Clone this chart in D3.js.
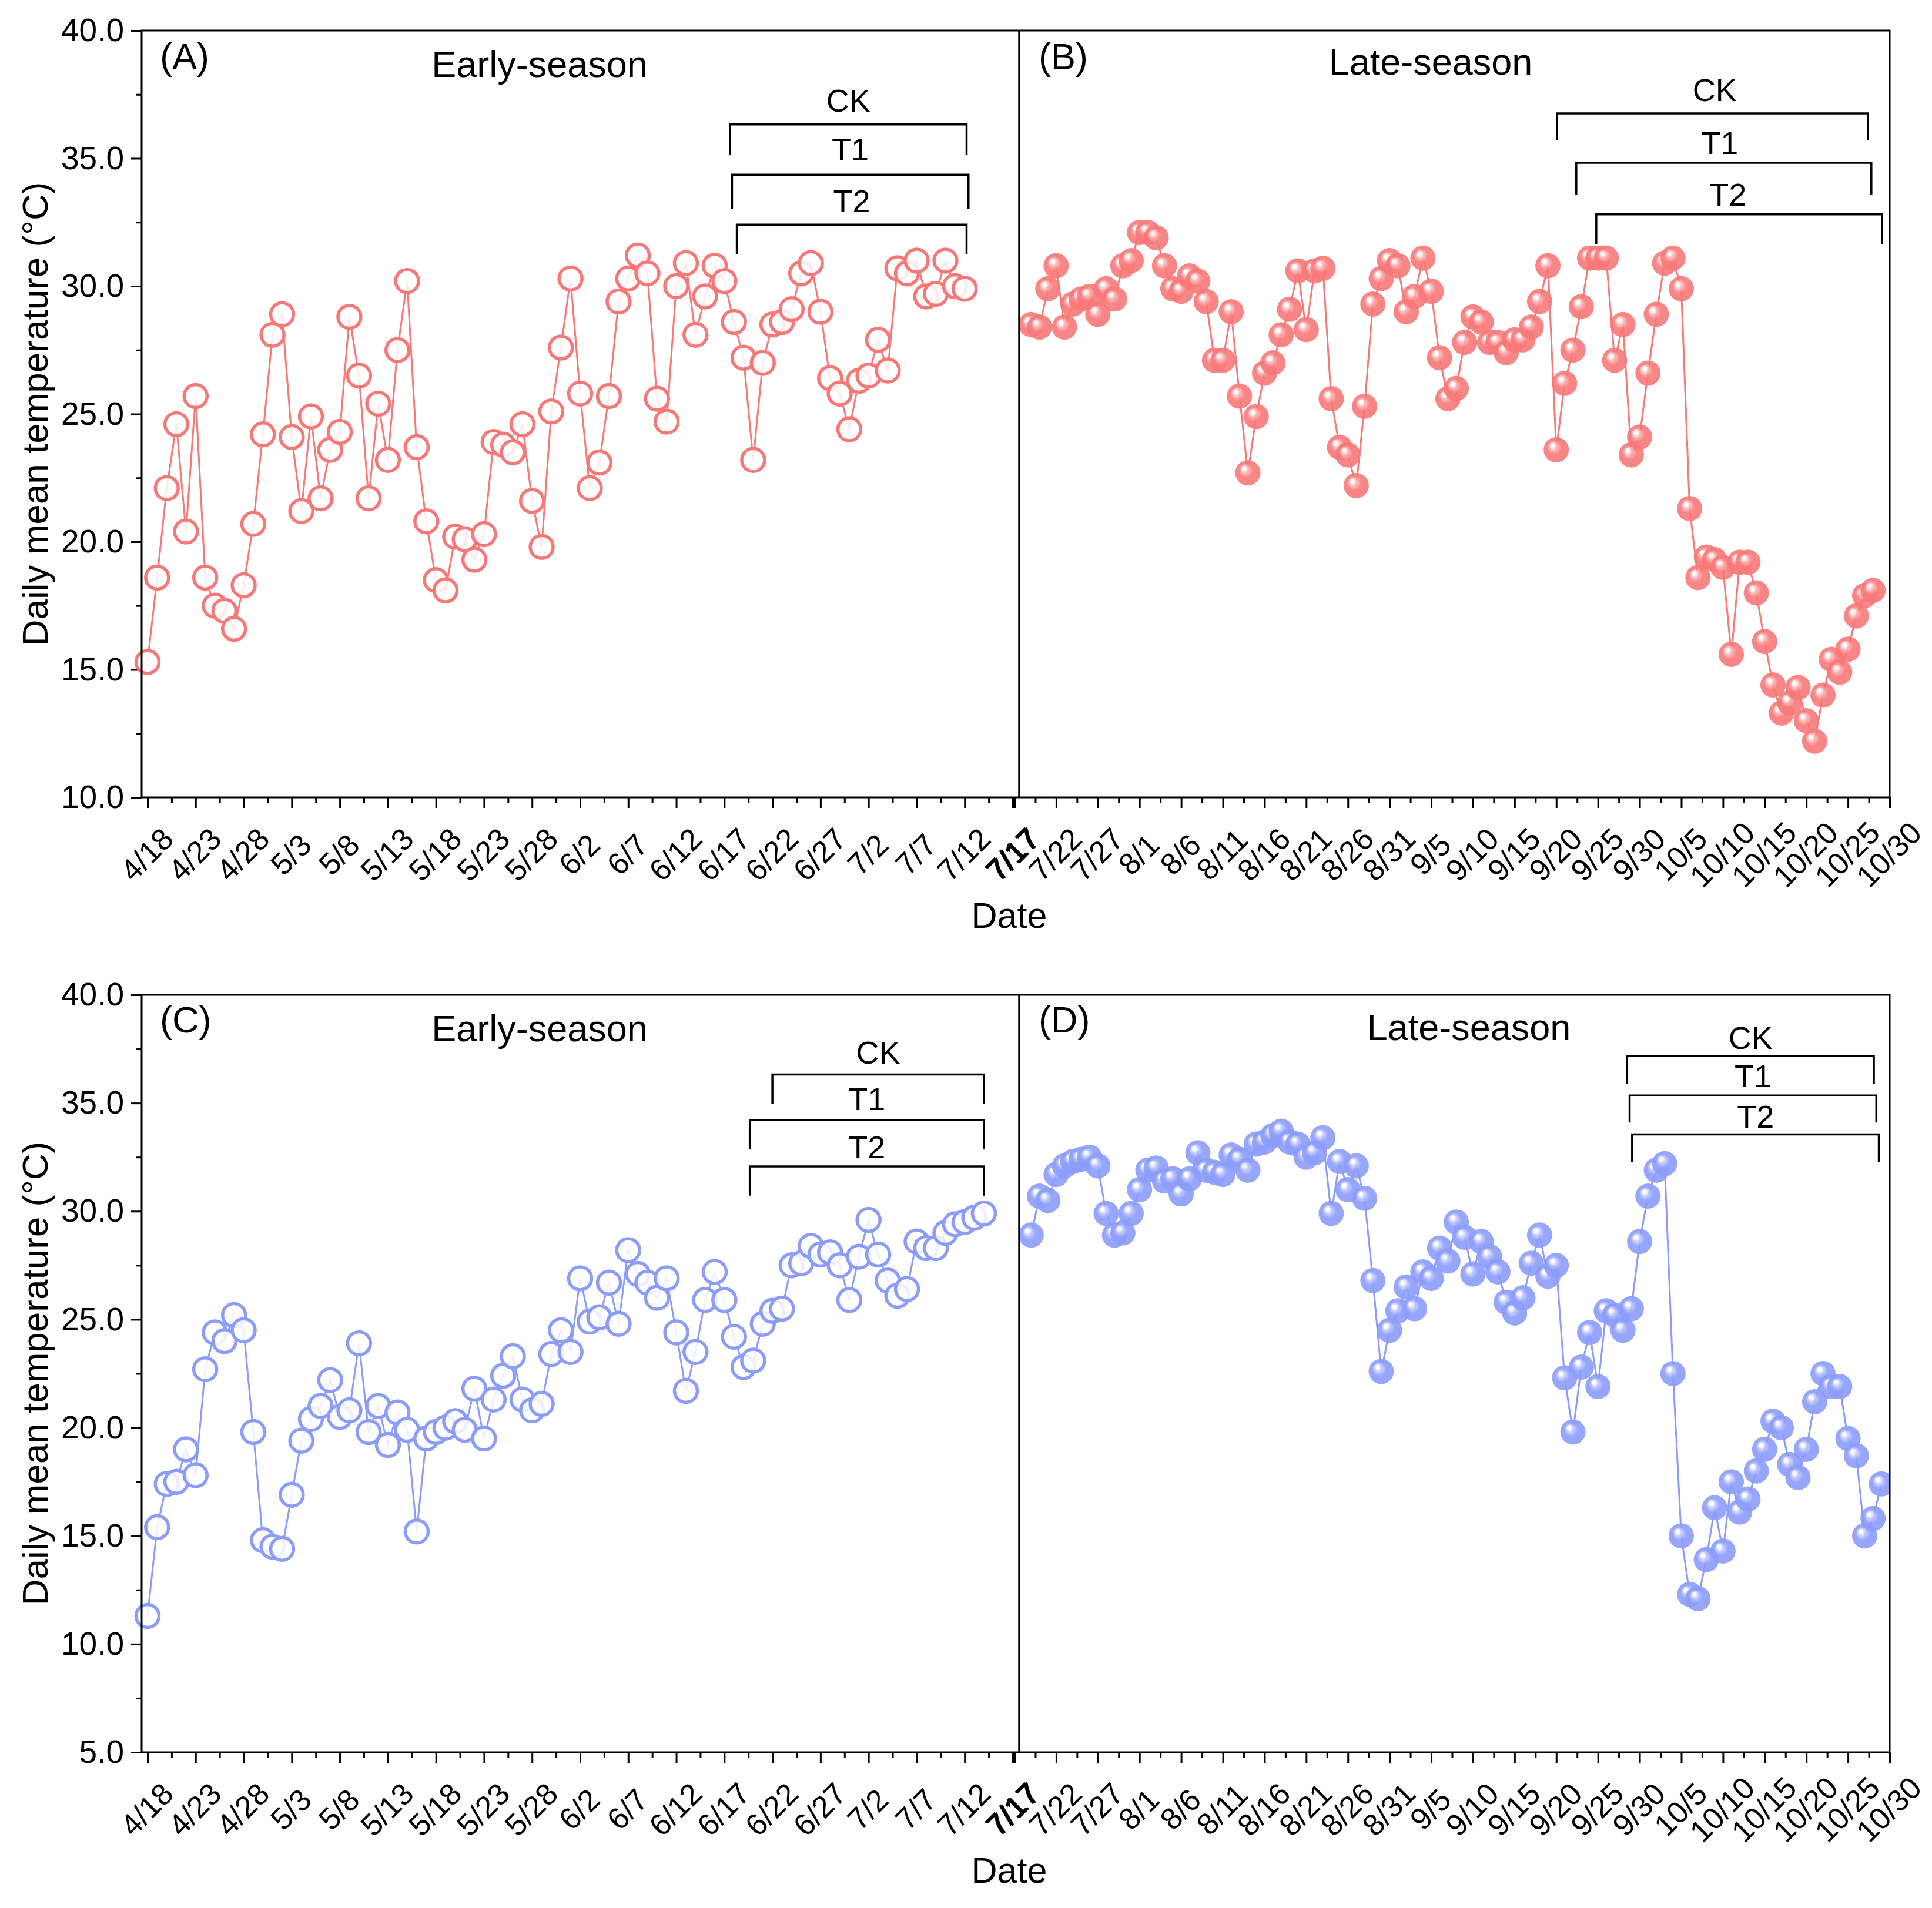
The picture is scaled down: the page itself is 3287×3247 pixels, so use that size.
<!DOCTYPE html>
<html>
<head>
<meta charset="utf-8">
<script src="https://cdn.jsdelivr.net/npm/d3@7"></script>
<style>
  body { margin: 0; background: #fff; }
  svg text { font-family: "Liberation Sans", Arial, sans-serif; fill: #000; }
</style>
</head>
<body>
<div id="chart"></div>
<script>
// Tick labels
var earlyTickLabels = ["4/18","4/23","4/28","5/3","5/8","5/13","5/18","5/23","5/28","6/2",
                       "6/7","6/12","6/17","6/22","6/27","7/2","7/7","7/12","7/17"];
var lateTickLabels = ["7/17","7/22","7/27","8/1","8/6","8/11","8/16","8/21","8/26","8/31","9/5",
                      "9/10","9/15","9/20","9/25","9/30","10/5","10/10","10/15","10/20","10/25","10/30"];
var yTicksTop = [10, 15, 20, 25, 30, 35, 40];
var yTicksBottom = [5, 10, 15, 20, 25, 30, 35, 40];

// Daily mean temperature, one value per day from the start date
var startA = "4/18", startB = "7/19", startC = "4/18", startD = "7/19";
var tempA = [15.3, 18.6, 22.1, 24.6, 20.4, 25.7, 18.6, 17.5, 17.3, 16.6,
             18.3, 20.7, 24.2, 28.1, 28.9, 24.1, 21.2, 24.9, 21.7, 23.6,
             24.3, 28.8, 26.5, 21.7, 25.4, 23.2, 27.5, 30.2, 23.7, 20.8,
             18.5, 18.1, 20.2, 20.1, 19.3, 20.3, 23.9, 23.8, 23.5, 24.6,
             21.6, 19.8, 25.1, 27.6, 30.3, 25.8, 22.1, 23.1, 25.7, 29.4,
             30.3, 31.2, 30.5, 25.6, 24.7, 30.0, 30.9, 28.1, 29.6, 30.8,
             30.2, 28.6, 27.2, 23.2, 27.0, 28.5, 28.6, 29.1, 30.5, 30.9,
             29.0, 26.4, 25.8, 24.4, 26.3, 26.5, 27.9, 26.7, 30.7, 30.5,
             31.0, 29.6, 29.7, 31.0, 30.0, 29.9];
var tempB = [28.5, 28.4, 29.9, 30.8, 28.4, 29.3, 29.5, 29.6, 28.9, 29.9,
             29.5, 30.8, 31.0, 32.1, 32.1, 31.9, 30.8, 29.9, 29.8, 30.4,
             30.2, 29.4, 27.1, 27.1, 29.0, 25.7, 22.7, 24.9, 26.6, 27.0,
             28.1, 29.1, 30.6, 28.3, 30.6, 30.7, 25.6, 23.7, 23.4, 22.2,
             25.3, 29.3, 30.3, 31.0, 30.8, 29.0, 29.6, 31.1, 29.8, 27.2,
             25.6, 26.0, 27.8, 28.8, 28.6, 27.8, 27.8, 27.4, 27.9, 27.9,
             28.4, 29.4, 30.8, 23.6, 26.2, 27.5, 29.2, 31.1, 31.1, 31.1,
             27.1, 28.5, 23.4, 24.1, 26.6, 28.9, 30.9, 31.1, 29.9, 21.3,
             18.6, 19.4, 19.3, 19.0, 15.6, 19.2, 19.2, 18.0, 16.1, 14.4,
             13.3, 13.7, 14.3, 13.0, 12.2, 14.0, 15.4, 14.9, 15.8, 17.1,
             17.9, 18.1];
var tempC = [11.3, 15.4, 17.4, 17.5, 19.0, 17.8, 22.7, 24.4, 24.0, 25.2,
             24.5, 19.8, 14.8, 14.5, 14.4, 16.9, 19.4, 20.4, 21.0, 22.2,
             20.5, 20.8, 23.9, 19.8, 21.0, 19.2, 20.7, 19.9, 15.2, 19.5,
             19.8, 20.0, 20.3, 19.9, 21.8, 19.5, 21.3, 22.4, 23.3, 21.3,
             20.8, 21.1, 23.4, 24.5, 23.5, 26.9, 24.9, 25.1, 26.7, 24.8,
             28.2, 27.1, 26.7, 26.0, 26.9, 24.4, 21.7, 23.5, 25.9, 27.2,
             25.9, 24.2, 22.8, 23.1, 24.8, 25.4, 25.5, 27.5, 27.6, 28.4,
             28.0, 28.1, 27.5, 25.9, 27.9, 29.6, 28.0, 26.8, 26.1, 26.4,
             28.6, 28.3, 28.3, 29.0, 29.4, 29.5, 29.7, 29.9];
var tempD = [28.9, 30.7, 30.5, 31.7, 32.1, 32.3, 32.4, 32.5, 32.1, 29.9,
             28.9, 29.0, 29.9, 31.0, 31.9, 32.0, 31.4, 31.5, 30.8, 31.5,
             32.7, 31.9, 31.8, 31.7, 32.6, 32.4, 31.9, 33.1, 33.2, 33.5,
             33.7, 33.2, 33.1, 32.5, 32.7, 33.4, 29.9, 32.3, 31.0, 32.1,
             30.6, 26.8, 22.6, 24.5, 25.4, 26.5, 25.5, 27.2, 26.9, 28.3,
             27.7, 29.5, 28.8, 27.1, 28.6, 27.9, 27.2, 25.8, 25.3, 26.0,
             27.6, 28.9, 27.0, 27.5, 22.3, 19.8, 22.8, 24.4, 21.9, 25.4,
             25.2, 24.5, 25.5, 28.6, 30.7, 31.9, 32.2, 22.5, 15.0, 12.3,
             12.1, 13.9, 16.3, 14.3, 17.5, 16.1, 16.7, 18.0, 19.0, 20.3,
             20.0, 18.3, 17.7, 19.0, 21.2, 22.5, 21.9, 21.9, 19.5, 18.7,
             15.0, 15.8, 17.4];

// Treatment periods: days after the first axis date, bracket height in degC
var bracketsA = [
  {label: "CK", from: 60.6, to: 85.2, top: 36.33, foot: 35.15, text: 37.26},
  {label: "T1", from: 60.8, to: 85.4, top: 34.36, foot: 33.03, text: 35.35},
  {label: "T2", from: 61.3, to: 85.2, top: 32.41, foot: 31.24, text: 33.33}];
var bracketsB = [
  {label: "CK", from: 65.1, to: 102.4, top: 36.76, foot: 35.70, text: 37.68, at: 84.0},
  {label: "T1", from: 67.4, to: 102.8, top: 34.83, foot: 33.58, text: 35.60, at: 84.6},
  {label: "T2", from: 69.8, to: 104.1, top: 32.81, foot: 31.65, text: 33.58, at: 85.6}];
var bracketsC = [
  {label: "CK", from: 65.0, to: 87.0, top: 36.32, foot: 34.98, text: 37.34},
  {label: "T1", from: 62.65, to: 87.0, top: 34.22, foot: 32.86, text: 35.20},
  {label: "T2", from: 62.65, to: 87.0, top: 32.07, foot: 30.72, text: 32.97}];
var bracketsD = [
  {label: "CK", from: 73.5, to: 103.1, top: 37.17, foot: 35.90, text: 38.02},
  {label: "T1", from: 73.8, to: 103.4, top: 35.35, foot: 34.10, text: 36.25},
  {label: "T2", from: 74.1, to: 103.7, top: 33.55, foot: 32.29, text: 34.38}];

var red = "#f87878", blue = "#8b9cfa";
var DAY = 864e5;

function md(s) {
  var p = s.split("/");
  return new Date(Date.UTC(2020, +p[0] - 1, +p[1]));
}
function addDays(date, n) { return new Date(date.getTime() + n * DAY); }

var svg = d3.select("#chart").append("svg")
    .attr("width", 3287).attr("height", 3247);
var defs = svg.append("defs");

// Shaded ball markers
function ballGradient(id, light, base) {
  var g = defs.append("radialGradient").attr("id", id)
      .attr("cx", 0.5).attr("cy", 0.5).attr("r", 0.5)
      .attr("fx", 0.33).attr("fy", 0.3);
  g.append("stop").attr("offset", "0%").attr("stop-color", "#ffffff");
  g.append("stop").attr("offset", "13%").attr("stop-color", "#ffffff");
  g.append("stop").attr("offset", "30%").attr("stop-color", light);
  g.append("stop").attr("offset", "55%").attr("stop-color", base);
  g.append("stop").attr("offset", "100%").attr("stop-color", base);
}
ballGradient("ballRed", "#fbb9b9", red);
ballGradient("ballBlue", "#c3cbfd", blue);

var xLeft = 241, xMid = 1734, xRight = 3215;
var rows = [
  {y0: 52, y1: 1357, domain: [10, 40], ticks: yTicksTop},
  {y0: 1693, y1: 2982, domain: [5, 40], ticks: yTicksBottom}];

var xEarly = d3.scaleUtc().domain([md("4/18"), md("7/17")]).range([251, 1723]);
var xLate = d3.scaleUtc().domain([md("7/17"), md("10/30")]).range([1726, 3215]);

function halfSteps(labels) {
  var out = [];
  for (var i = 0; i < labels.length - 1; i++) out.push(addDays(md(labels[i]), 2.5));
  return out;
}

function drawXAxis(x, labels, yPos) {
  var major = svg.append("g")
      .attr("transform", "translate(0," + yPos + ")")
      .call(d3.axisBottom(x)
        .tickValues(labels.map(md))
        .tickSize(18)
        .tickFormat(function (d, i) { return labels[i]; }));
  major.select(".domain").remove();
  major.selectAll("line").attr("stroke", "#000").attr("stroke-width", 3);
  major.selectAll("text")
      .attr("y", null).attr("dy", "0.35em")
      .attr("transform", "translate(-2,97) rotate(-45)")
      .style("text-anchor", "middle")
      .style("font-size", "52px");
  var minor = svg.append("g")
      .attr("transform", "translate(0," + yPos + ")")
      .call(d3.axisBottom(x).tickValues(halfSteps(labels)).tickSize(10).tickFormat(""));
  minor.select(".domain").remove();
  minor.selectAll("line").attr("stroke", "#000").attr("stroke-width", 3);
}

function drawPanel(row, x, x0, x1, series, start, color, filled, brackets, axisStart, clip) {
  var y = d3.scaleLinear().domain(row.domain).range([row.y1, row.y0]);
  var pts = series.map(function (v, i) { return {date: addDays(md(start), i), v: v}; });
  var g = svg.append("g");
  if (clip) {
    var id = "clip" + Math.round(x0) + "_" + row.y0;
    defs.append("clipPath").attr("id", id).append("rect")
        .attr("x", x0).attr("y", row.y0).attr("width", x1 - x0).attr("height", row.y1 - row.y0);
    g.attr("clip-path", "url(#" + id + ")");
  }
  var line = d3.line()
      .x(function (d) { return x(d.date); })
      .y(function (d) { return y(d.v); });
  g.append("path")
      .attr("d", line(pts))
      .attr("fill", "none")
      .attr("stroke", color)
      .attr("stroke-width", 3);
  var dots = g.selectAll("circle").data(pts).enter().append("circle")
      .attr("cx", function (d) { return x(d.date); })
      .attr("cy", function (d) { return y(d.v); });
  if (filled) {
    dots.attr("r", 21.5).attr("fill", filled).attr("opacity", 0.9);
  } else {
    dots.attr("r", 19.5).attr("fill", "#fff").attr("fill-opacity", 0.85)
        .attr("stroke", color).attr("stroke-width", 5.5);
  }

  // treatment brackets
  var base = md(axisStart);
  brackets.forEach(function (b) {
    var xa = x(addDays(base, b.from)), xb = x(addDays(base, b.to));
    svg.append("path")
        .attr("d", "M" + xa + "," + y(b.foot) + "V" + y(b.top) + "H" + xb + "V" + y(b.foot))
        .attr("fill", "none").attr("stroke", "#000").attr("stroke-width", 3.5);
    var lx = b.at !== undefined ? x(addDays(base, b.at)) : (xa + xb) / 2;
    svg.append("text")
        .attr("x", lx).attr("y", y(b.text) + 19)
        .style("text-anchor", "middle").style("font-size", "54px")
        .text(b.label);
  });
  return y;
}

rows.forEach(function (row, r) {
  // left axis with major and minor ticks
  var y = d3.scaleLinear().domain(row.domain).range([row.y1, row.y0]);
  var minorVals = row.ticks.slice(0, -1).map(function (t) { return t + 2.5; });
  var ax = svg.append("g").attr("transform", "translate(" + xLeft + ",0)")
      .call(d3.axisLeft(y).tickValues(row.ticks).tickSize(18).tickPadding(12)
        .tickFormat(d3.format(".1f")));
  ax.select(".domain").remove();
  ax.selectAll("line").attr("stroke", "#000").attr("stroke-width", 3);
  ax.selectAll("text").style("font-size", "55px");
  var axm = svg.append("g").attr("transform", "translate(" + xLeft + ",0)")
      .call(d3.axisLeft(y).tickValues(minorVals).tickSize(10).tickFormat(""));
  axm.select(".domain").remove();
  axm.selectAll("line").attr("stroke", "#000").attr("stroke-width", 3);

  drawXAxis(xEarly, earlyTickLabels, row.y1);
  drawXAxis(xLate, lateTickLabels, row.y1);

  svg.append("text")
      .attr("transform", "translate(59," + (row.y0 + row.y1) / 2 + ") rotate(-90)")
      .attr("dy", "0.35em")
      .style("text-anchor", "middle").style("font-size", "62px")
      .text("Daily mean temperature (\u00B0C)");
  svg.append("text")
      .attr("x", 1717).attr("y", row.y1 + 222)
      .style("text-anchor", "middle").style("font-size", "61px")
      .text("Date");
});

drawPanel(rows[0], xEarly, xLeft, xMid, tempA, startA, red, null, bracketsA, "4/18", false);
drawPanel(rows[0], xLate, xMid, xRight, tempB, startB, red, "url(#ballRed)", bracketsB, "7/17", true);
drawPanel(rows[1], xEarly, xLeft, xMid, tempC, startC, blue, null, bracketsC, "4/18", false);
drawPanel(rows[1], xLate, xMid, xRight, tempD, startD, blue, "url(#ballBlue)", bracketsD, "7/17", true);

// frames
rows.forEach(function (row) {
  svg.append("rect")
      .attr("x", xLeft).attr("y", row.y0)
      .attr("width", xRight - xLeft).attr("height", row.y1 - row.y0)
      .attr("fill", "none").attr("stroke", "#000").attr("stroke-width", 3);
  svg.append("line")
      .attr("x1", xMid).attr("x2", xMid).attr("y1", row.y0).attr("y2", row.y1)
      .attr("stroke", "#000").attr("stroke-width", 3.5);
});

// panel letters and titles
var panelText = [
  {t: "(A)", x: 272, y: 118, a: "start"}, {t: "Early-season", x: 918, y: 131, a: "middle"},
  {t: "(B)", x: 1767, y: 118, a: "start"}, {t: "Late-season", x: 2434, y: 127, a: "middle"},
  {t: "(C)", x: 272, y: 1757, a: "start"}, {t: "Early-season", x: 918, y: 1772, a: "middle"},
  {t: "(D)", x: 1767, y: 1757, a: "start"}, {t: "Late-season", x: 2499, y: 1770, a: "middle"}];
svg.selectAll("text.panel").data(panelText).enter().append("text")
    .attr("class", "panel")
    .attr("x", function (d) { return d.x; })
    .attr("y", function (d) { return d.y; })
    .style("text-anchor", function (d) { return d.a; })
    .style("font-size", "63px")
    .text(function (d) { return d.t; });
</script>
</body>
</html>
